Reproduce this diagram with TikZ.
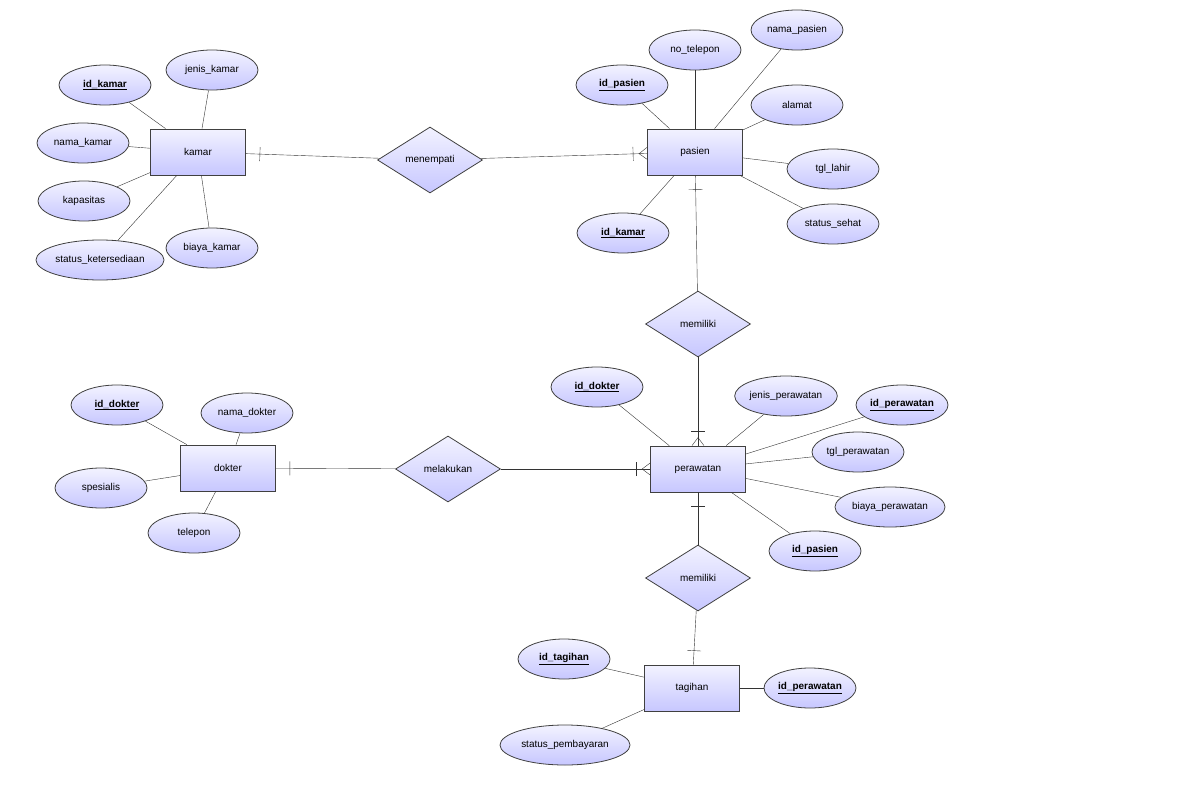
\documentclass[tikz,border=0pt]{standalone}
\usepackage{fontspec}
\setmainfont{Liberation Sans}
\usetikzlibrary{shapes.geometric,decorations.markings}
\begin{document}
\begin{tikzpicture}[x=1bp,y=-1bp,font=\fontsize{10}{12}\selectfont,
 ent/.style={draw=black!75,thick,top color=blue!5,bottom color=blue!22,minimum width=95bp,minimum height=46bp},
 rel/.style={diamond,draw=black!75,thick,top color=blue!5,bottom color=blue!22,aspect=1.6,minimum width=105bp,minimum height=66bp,inner sep=0pt},
 att/.style={ellipse,draw=black!75,thick,top color=blue!5,bottom color=blue!22,minimum width=92bp,minimum height=40bp,inner sep=0pt},
 key/.style={att,font=\fontsize{10}{12}\selectfont\bfseries},
 ln/.style={draw=black!80},
 one/.style={postaction={decorate},decoration={markings,mark=at position 1 with {\draw[black!80] (-14bp,-7bp)--(-14bp,7bp);}}},
 many/.style={postaction={decorate},decoration={markings,mark=at position 1 with {\draw[black!80] (-14bp,-7bp)--(-14bp,7bp);\draw[black!80] (0,-6bp)--(-8bp,0)--(0,6bp);}}}]
\useasboundingbox (0,0) rectangle (1200,789);
% entities
\node[ent] (kamar) at (198,152) {kamar};
\node[ent] (pasien) at (695,152) {pasien};
\node[ent] (dokter) at (228,468) {dokter};
\node[ent] (perawatan) at (698,469) {perawatan};
\node[ent] (tagihan) at (692,688) {tagihan};
\node[rel] (menempati) at (430,160) {menempati};
\node[rel] (memiliki) at (698,324) {memiliki};
\node[rel] (melakukan) at (448,469) {melakukan};
\node[rel] (memiliki2) at (698,578) {memiliki};
% kamar attributes
\node[key] (a1) at (105,85) {\underline{id\_kamar}};
\node[att] (a2) at (212,70) {jenis\_kamar};
\node[att] (a3) at (83,143) {nama\_kamar};
\node[att] (a4) at (84,201) {kapasitas};
\node[att,minimum width=128bp] (a5) at (100,260) {status\_ketersediaan};
\node[att] (a6) at (212,248) {biaya\_kamar};
\foreach \a in {a1,a2,a3,a4,a5,a6} \draw[ln] (kamar) -- (\a);
% pasien attributes
\node[key] (b1) at (622,85) {\underline{id\_pasien}};
\node[att] (b2) at (695,50) {no\_telepon};
\node[att] (b3) at (797,30) {nama\_pasien};
\node[att] (b4) at (797,105) {alamat};
\node[att] (b5) at (833,169) {tgl\_lahir};
\node[att] (b6) at (833,224) {status\_sehat};
\node[key] (b7) at (623,233) {\underline{id\_kamar}};
\foreach \a in {b1,b2,b3,b4,b5,b6,b7} \draw[ln] (pasien) -- (\a);
% dokter attributes
\node[key] (c1) at (117,405) {\underline{id\_dokter}};
\node[att] (c2) at (247,413) {nama\_dokter};
\node[att] (c3) at (101,488) {spesialis};
\node[att] (c4) at (194,533) {telepon};
\foreach \a in {c1,c2,c3,c4} \draw[ln] (dokter) -- (\a);
% perawatan attributes
\node[key] (d1) at (597,387) {\underline{id\_dokter}};
\node[att] (d2) at (786,396) {jenis\_perawatan};
\node[key] (d3) at (902,405) {\underline{id\_perawatan}};
\node[att] (d4) at (858,452) {tgl\_perawatan};
\node[att,minimum width=110bp] (d5) at (890,507) {biaya\_perawatan};
\node[key] (d6) at (815,551) {\underline{id\_pasien}};
\foreach \a in {d1,d2,d3,d4,d5,d6} \draw[ln] (perawatan) -- (\a);
% tagihan attributes
\node[key] (e1) at (564,659) {\underline{id\_tagihan}};
\node[key] (e2) at (810,688) {\underline{id\_perawatan}};
\node[att,minimum width=130bp] (e3) at (565,745) {status\_pembayaran};
\foreach \a in {e1,e2,e3} \draw[ln] (tagihan) -- (\a);
% relationships
\draw[ln,one] (menempati) -- (kamar);
\draw[ln,many] (menempati) -- (pasien);
\draw[ln,one] (memiliki) -- (pasien);
\draw[ln,many] (memiliki) -- (perawatan);
\draw[ln,one] (melakukan) -- (dokter);
\draw[ln,many] (melakukan) -- (perawatan);
\draw[ln,one] (memiliki2) -- (perawatan);
\draw[ln,one] (memiliki2) -- (tagihan);
\end{tikzpicture}
\end{document}
